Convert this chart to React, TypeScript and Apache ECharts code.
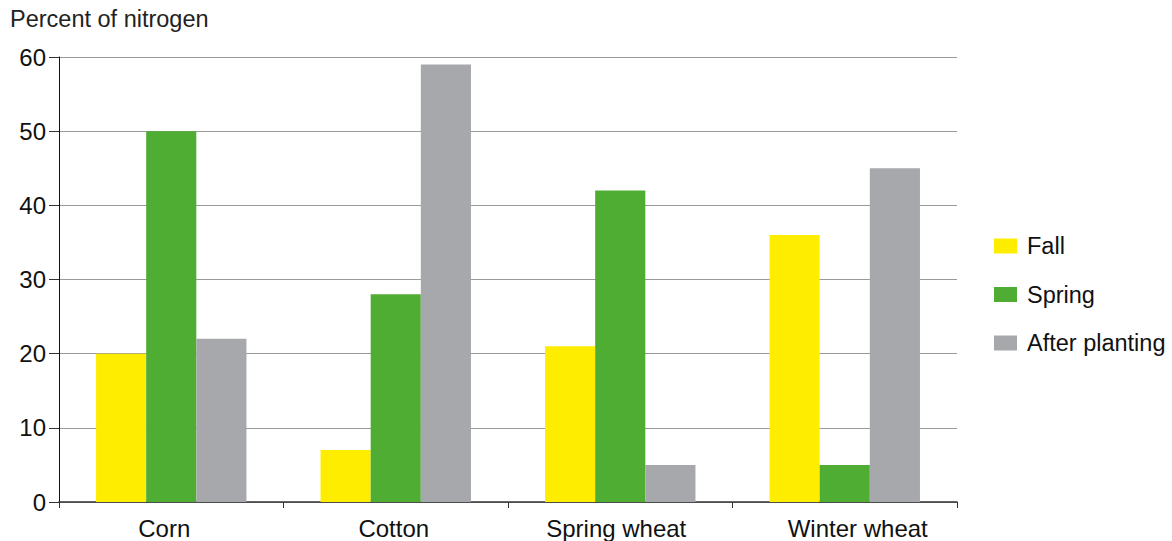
import React, { useEffect, useRef } from "react";
import * as echarts from "echarts";

const categories = ["Corn", "Cotton", "Spring wheat", "Winter wheat"];
const fall = [20, 7, 21, 36];
const spring = [50, 28, 42, 5];
const afterPlanting = [22, 59, 5, 45];
const seriesNames = ["Fall", "Spring", "After planting"];
const colors = ["#FFED00", "#4EAD32", "#A7A8AB"];

export default function App() {
  const ref = useRef<HTMLDivElement>(null);
  useEffect(() => {
    const chart = echarts.init(ref.current!, null, { renderer: "svg" });
    const font = "'Liberation Sans', Arial, Helvetica, sans-serif";
    const labelShift = [-7, -2, -4, 13];
    const rich: Record<string, any> = {};
    labelShift.forEach((s, i) => {
      rich["s" + i] = {
        fontFamily: font,
        fontSize: 24,
        color: "#111",
        padding: s < 0 ? [0, -2 * s, 0, 0] : [0, 0, 0, 2 * s],
      };
    });
    chart.setOption({
      animation: false,
      textStyle: { fontFamily: font },
      grid: { left: 59, right: 215, top: 57, bottom: 39, containLabel: false },
      title: {
        text: "Percent of nitrogen",
        left: 10,
        top: 7,
        padding: 0,
        textStyle: { fontFamily: font, fontSize: 23.5, fontWeight: "normal", color: "#222" },
      },
      legend: {
        orient: "vertical",
        left: 994,
        top: 234,
        padding: 0,
        itemWidth: 23,
        itemHeight: 15,
        itemGap: 24.5,
        icon: "rect",
        textStyle: { fontFamily: font, fontSize: 23.5, lineHeight: 24, color: "#111", padding: [0, 0, 0, 5] },
        data: seriesNames,
      },
      xAxis: {
        type: "category",
        data: categories,
        axisLine: { lineStyle: { color: "#333", width: 1.5 } },
        axisTick: { show: true, interval: 0, length: 6, alignWithLabel: false, lineStyle: { color: "#333" } },
        axisLabel: {
          interval: 0,
          hideOverlap: false,
          fontFamily: font,
          fontSize: 24,
          color: "#111",
          margin: 14,
          formatter: (v: string, i: number) => `{s${i}|${v}}`,
          rich,
        },
      },
      yAxis: {
        type: "value",
        min: 0,
        max: 60,
        interval: 10,
        axisLine: { show: true, lineStyle: { color: "#111", width: 1 } },
        axisTick: { show: true, length: 10, inside: false, lineStyle: { color: "#333" } },
        axisLabel: { fontFamily: font, fontSize: 24, color: "#111", margin: 13 },
        splitLine: { lineStyle: { color: "#999", width: 1 } },
      },
      series: [fall, spring, afterPlanting].map((d, i) => ({
        name: seriesNames[i],
        type: "bar",
        data: d,
        barGap: "0%",
        barCategoryGap: "33%",
        itemStyle: { color: colors[i] },
      })),
    });
    return () => chart.dispose();
  }, []);
  return <div ref={ref} style={{ width: 1172, height: 541, position: "absolute", left: 0, top: 0 }} />;
}
